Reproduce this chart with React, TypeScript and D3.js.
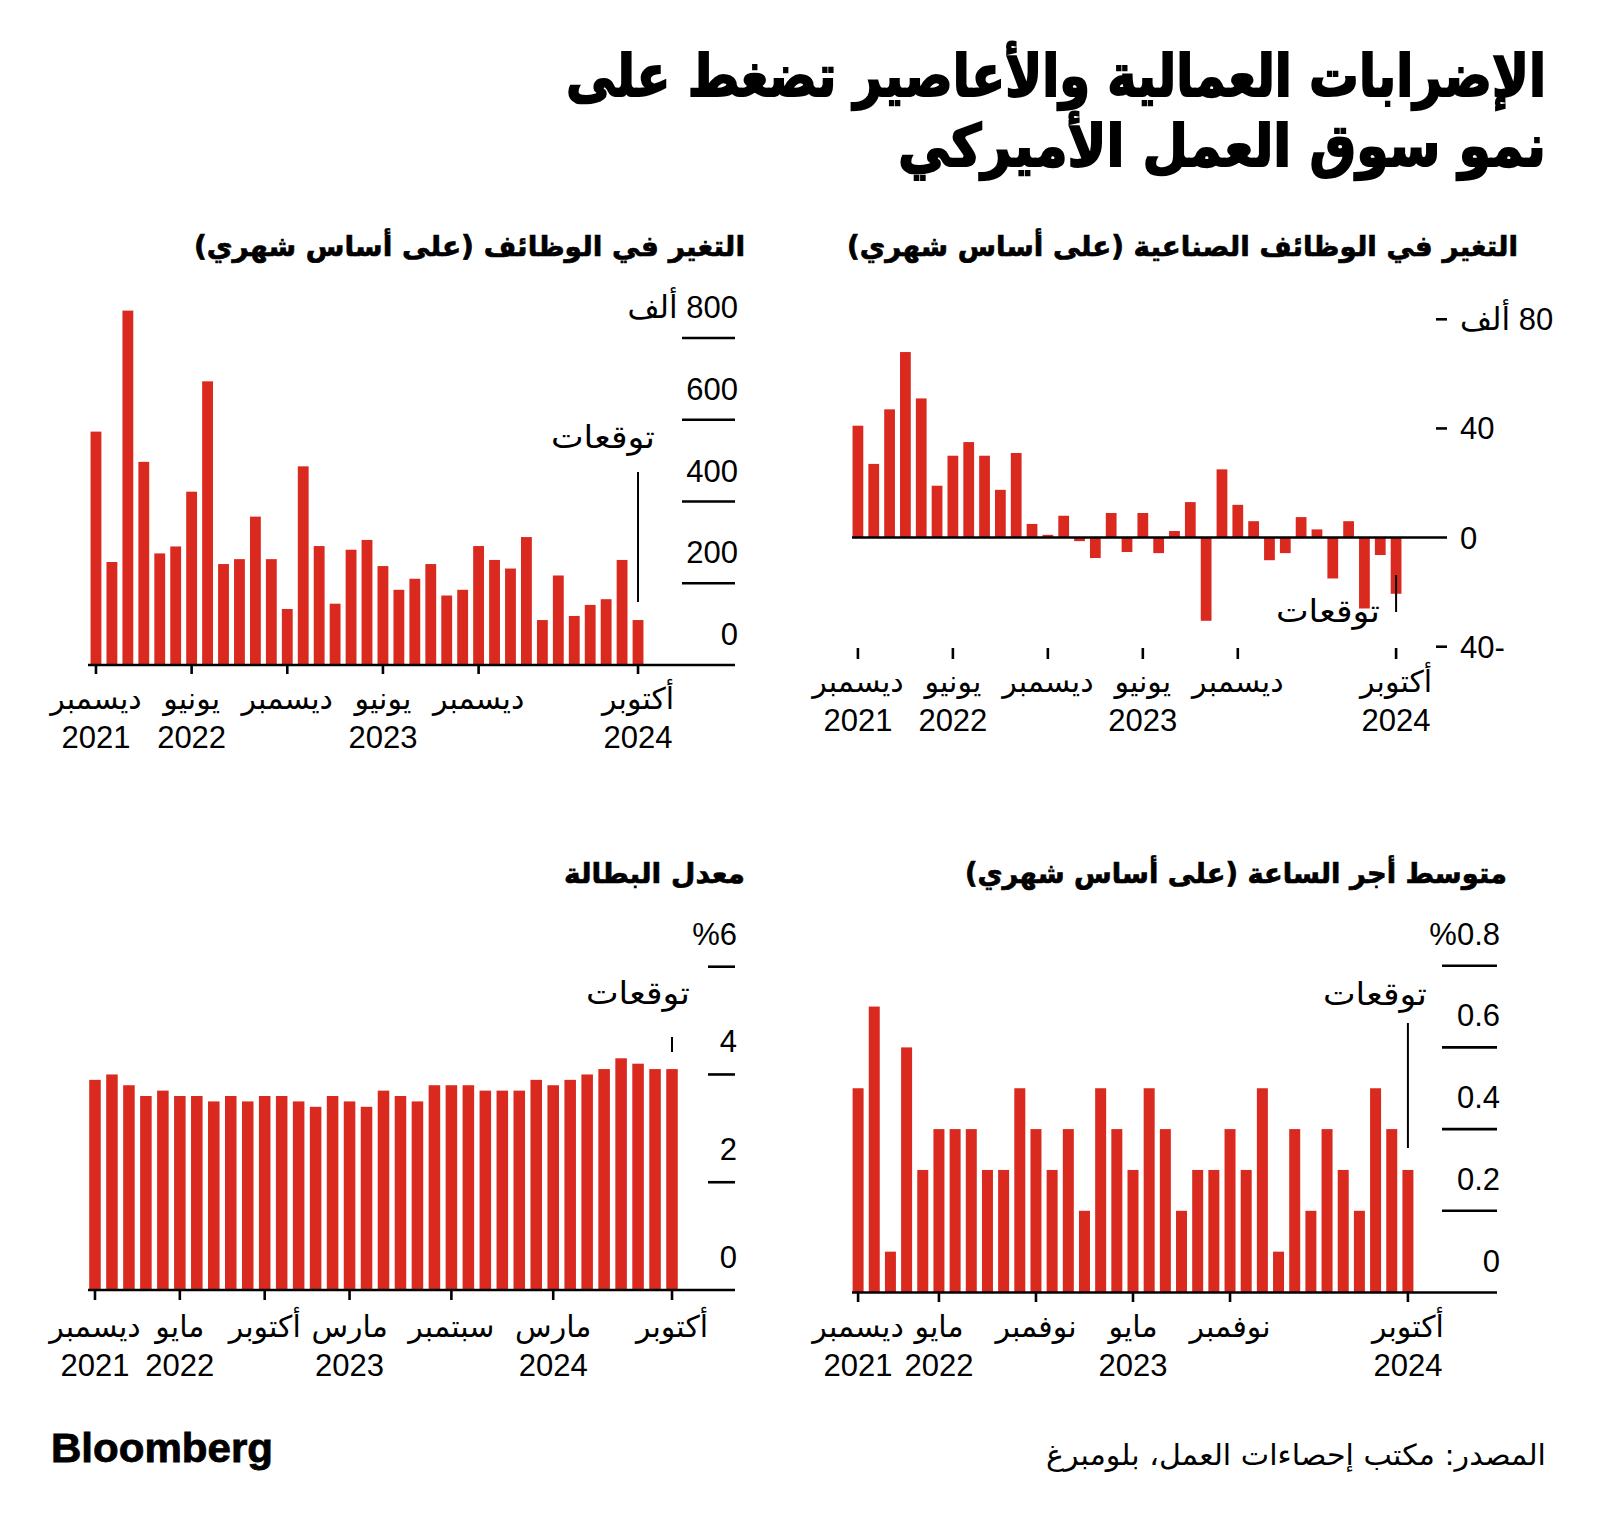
import React from 'react';
import * as d3 from 'd3';

// ---------- DATA ----------
const payrolls = [571, 252, 867, 497, 273, 290, 424, 694, 247, 259, 363, 259, 137, 486, 291, 150, 282, 306, 242, 184, 211, 247, 170, 184, 291, 257, 236, 313, 110, 219, 120, 147, 161, 257, 110];
const manufacturing = [41, 27, 47, 68, 51, 19, 30, 35, 30, 17.5, 31, 5, 1, 8, -1.3, -7.5, 9, -5.3, 9, -5.7, 2.4, 13, -30.5, 25, 12, 6, -8.3, -5.7, 7.5, 3, -15, 6, -26, -6.4, -20.6];
const unemployment = [3.9, 4.0, 3.8, 3.6, 3.7, 3.6, 3.6, 3.5, 3.6, 3.5, 3.6, 3.6, 3.5, 3.4, 3.6, 3.5, 3.4, 3.7, 3.6, 3.5, 3.8, 3.8, 3.8, 3.7, 3.7, 3.7, 3.9, 3.8, 3.9, 4.0, 4.1, 4.3, 4.2, 4.1, 4.1];
const wages = [0.5, 0.7, 0.1, 0.6, 0.3, 0.4, 0.4, 0.4, 0.3, 0.3, 0.5, 0.4, 0.3, 0.4, 0.2, 0.5, 0.4, 0.3, 0.5, 0.4, 0.2, 0.3, 0.3, 0.4, 0.3, 0.5, 0.1, 0.4, 0.2, 0.4, 0.3, 0.2, 0.5, 0.4, 0.3];

const jobsTickIdx = [0, 6, 12, 18, 24, 34];
const jobsTickMonths = ['ديسمبر', 'يونيو', 'ديسمبر', 'يونيو', 'ديسمبر', 'أكتوبر'];
const jobsTickYears = ['2021', '2022', '', '2023', '', '2024'];

const unempTickIdx = [0, 5, 10, 15, 21, 27, 34];
const unempTickMonths = ['ديسمبر', 'مايو', 'أكتوبر', 'مارس', 'سبتمبر', 'مارس', 'أكتوبر'];
const unempTickYears = ['2021', '2022', '', '2023', '', '2024', ''];

const wageTickIdx = [0, 5, 11, 17, 23, 34];
const wageTickMonths = ['ديسمبر', 'مايو', 'نوفمبر', 'مايو', 'نوفمبر', 'أكتوبر'];
const wageTickYears = ['2021', '2022', '', '2023', '', '2024'];

const payrollYTicks = [0, 200, 400, 600, 800];
const payrollYLabels = ['0', '200', '400', '600', '800 ألف'];
const mfgYTicks = [80, 40, 0, -40];
const mfgYLabels = ['80 ألف', '40', '0', '-40'];
const unempYTicks = [0, 2, 4, 6];
const unempYLabels = ['0', '2', '4', '%6'];
const wageYTicks = [0, 0.2, 0.4, 0.6, 0.8];
const wageYLabels = ['0', '0.2', '0.4', '0.6', '%0.8'];

const titleLines = ['الإضرابات العمالية والأعاصير تضغط على', 'نمو سوق العمل الأميركي'];
const panelTitles = [
  'التغير في الوظائف (على أساس شهري)',
  'التغير في الوظائف الصناعية (على أساس شهري)',
  'معدل البطالة',
  'متوسط أجر الساعة (على أساس شهري)',
];
const forecastLabel = 'توقعات';
const sourceText = 'المصدر: مكتب إحصاءات العمل، بلومبرغ';

// ---------- STYLE ----------
const RED = '#da2a1f';
const AR = "'DejaVu Sans', sans-serif";
const NUM = "'Liberation Sans', 'DejaVu Sans', sans-serif";

type PanelProps = {
  data: number[];
  bandRange: [number, number];
  yDomain: [number, number];
  yRange: [number, number];
  axisExtent: [number, number];
  tickIdx: number[];
  tickMonths: string[];
  tickYears: string[];
  monthY: number;
  yearY: number;
  tickY: [number, number];
  yTicks: number[];
  yLabels: string[];
  mode: 'grid' | 'dash';
  gridX: [number, number];
  labelX: number;
  labelDy: number;
  forecastX: number;
  forecastY: number;
  forecastLine: [number, number];
  title: string;
  titleX: number;
  titleY: number;
  titleW: number;
};

function Panel(p: PanelProps) {
  const idx = d3.range(p.data.length);
  const x = d3.scaleBand<number>().domain(idx).range(p.bandRange).paddingInner(0.32).paddingOuter(0.16);
  const y = d3.scaleLinear().domain(p.yDomain).range(p.yRange);
  const y0 = y(0);
  const cx = (i: number) => (x(i) as number) + x.bandwidth() / 2;
  const lastX = cx(p.data.length - 1);
  return (
    <g>
      <text x={p.titleX} y={p.titleY} direction="rtl" textAnchor="start" fontFamily={AR} fontWeight="bold" fontSize={28}
        stroke="#000" strokeWidth={0.7}
        textLength={p.titleW} lengthAdjust="spacingAndGlyphs">{p.title}</text>
      {p.data.map((v, i) => (
        <rect key={i} x={x(i)} width={x.bandwidth()} y={Math.min(y(v), y0)} height={Math.abs(y(v) - y0)} fill={RED} />
      ))}
      <line x1={p.axisExtent[0]} x2={p.axisExtent[1]} y1={y0} y2={y0} stroke="#000" strokeWidth={2.6} />
      {p.yTicks.map((t, i) => {
        const yy = y(t);
        return (
          <g key={i}>
            {t !== 0 && <line x1={p.gridX[0]} x2={p.gridX[1]} y1={yy} y2={yy} stroke="#000" strokeWidth={2.6} />}
            <text x={p.labelX} y={yy + p.labelDy} direction="rtl" textAnchor={p.mode === 'grid' ? 'start' : 'end'}
              fontFamily={NUM} fontSize={31}>{p.yLabels[i]}</text>
          </g>
        );
      })}
      {p.tickIdx.map((ti, k) => (
        <g key={k}>
          <line x1={cx(ti)} x2={cx(ti)} y1={p.tickY[0]} y2={p.tickY[1]} stroke="#000" strokeWidth={2.6} />
          <text x={cx(ti)} y={p.monthY} textAnchor="middle" fontFamily={AR} fontSize={30}>{p.tickMonths[k]}</text>
          {p.tickYears[k] && (
            <text x={cx(ti)} y={p.yearY} textAnchor="middle" fontFamily={NUM} fontSize={31}>{p.tickYears[k]}</text>
          )}
        </g>
      ))}
      <line x1={lastX} x2={lastX} y1={p.forecastLine[0]} y2={p.forecastLine[1]} stroke="#000" strokeWidth={2} />
      <text x={p.forecastX} y={p.forecastY} direction="rtl" textAnchor="start" fontFamily={AR} fontSize={32}
        textLength={104} lengthAdjust="spacingAndGlyphs">{forecastLabel}</text>
    </g>
  );
}

export default function App() {
  return (
    <svg width={1600} height={1529} viewBox="0 0 1600 1529" style={{ position: 'absolute', left: 0, top: 0, background: '#fff' }}>
      <rect x={0} y={0} width={1600} height={1529} fill="#fff" />
      <text x={1546} y={96} direction="rtl" textAnchor="start" fontFamily={AR} fontWeight="bold" fontSize={58}
        stroke="#000" strokeWidth={2}
        textLength={980} lengthAdjust="spacingAndGlyphs">{titleLines[0]}</text>
      <text x={1546} y={166} direction="rtl" textAnchor="start" fontFamily={AR} fontWeight="bold" fontSize={58}
        stroke="#000" strokeWidth={2}
        textLength={648} lengthAdjust="spacingAndGlyphs">{titleLines[1]}</text>

      <Panel data={payrolls} bandRange={[88, 646]} yDomain={[0, 800]} yRange={[665, 338]} axisExtent={[88, 735]}
        tickIdx={jobsTickIdx} tickMonths={jobsTickMonths} tickYears={jobsTickYears}
        monthY={709} yearY={748} tickY={[665, 674]}
        yTicks={payrollYTicks} yLabels={payrollYLabels} mode="grid" gridX={[682, 735]} labelX={738} labelDy={-20}
        forecastX={655} forecastY={448} forecastLine={[472, 602]}
        title={panelTitles[0]} titleX={745} titleY={256} titleW={551} />

      <Panel data={manufacturing} bandRange={[850, 1404]} yDomain={[-40, 80]} yRange={[646.7, 319.3]} axisExtent={[852, 1447]}
        tickIdx={jobsTickIdx} tickMonths={jobsTickMonths} tickYears={jobsTickYears}
        monthY={692} yearY={731} tickY={[648, 659]}
        yTicks={mfgYTicks} yLabels={mfgYLabels} mode="dash" gridX={[1436, 1447]} labelX={1460} labelDy={11}
        forecastX={1380} forecastY={622} forecastLine={[575, 612]}
        title={panelTitles[1]} titleX={1518} titleY={256} titleW={671} />

      <Panel data={unemployment} bandRange={[86.5, 680.5]} yDomain={[0, 6]} yRange={[1290, 966.7]} axisExtent={[88, 735]}
        tickIdx={unempTickIdx} tickMonths={unempTickMonths} tickYears={unempTickYears}
        monthY={1337} yearY={1376} tickY={[1290, 1300]}
        yTicks={unempYTicks} yLabels={unempYLabels} mode="grid" gridX={[708, 735]} labelX={737} labelDy={-22}
        forecastX={690} forecastY={1004} forecastLine={[1037, 1052]}
        title={panelTitles[2]} titleX={745} titleY={883} titleW={181} />

      <Panel data={wages} bandRange={[850, 1416]} yDomain={[0, 0.8]} yRange={[1292.5, 965.7]} axisExtent={[852, 1497]}
        tickIdx={wageTickIdx} tickMonths={wageTickMonths} tickYears={wageTickYears}
        monthY={1337} yearY={1376} tickY={[1292, 1302]}
        yTicks={wageYTicks} yLabels={wageYLabels} mode="grid" gridX={[1442, 1497]} labelX={1500} labelDy={-21}
        forecastX={1427} forecastY={1005} forecastLine={[1023, 1148]}
        title={panelTitles[3]} titleX={1507} titleY={883} titleW={542} />

      <text x={51} y={1462} fontFamily={NUM} fontWeight="bold" fontSize={40} stroke="#000" strokeWidth={0.8}
        textLength={222} lengthAdjust="spacingAndGlyphs">Bloomberg</text>
      <text x={1546} y={1465} direction="rtl" textAnchor="start" fontFamily={AR} fontSize={29}
        textLength={500} lengthAdjust="spacingAndGlyphs">{sourceText}</text>
    </svg>
  );
}
